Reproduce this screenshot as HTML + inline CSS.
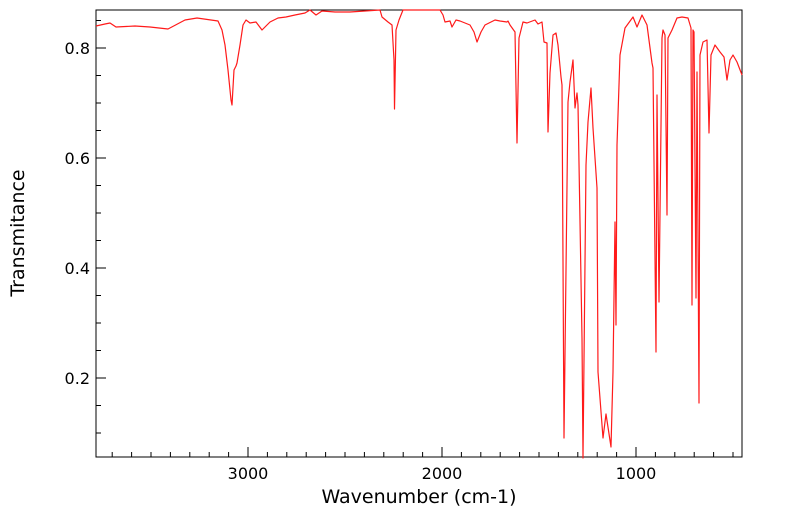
<!DOCTYPE html>
<html><head><style>body{margin:0;background:#fff}svg{display:block;font-family:"DejaVu Sans","Liberation Sans",sans-serif}</style></head>
<body>
<svg width="799" height="516" viewBox="0 0 799 516">
<rect x="96" y="10" width="646" height="447" fill="none" stroke="#000" stroke-width="1"/>
<g stroke="#000" stroke-width="1">
<line x1="96" y1="378" x2="106" y2="378"/><line x1="96" y1="268" x2="106" y2="268"/><line x1="96" y1="158" x2="106" y2="158"/><line x1="96" y1="48" x2="106" y2="48"/>
<line x1="96" y1="20.5" x2="101" y2="20.5"/><line x1="96" y1="75.5" x2="101" y2="75.5"/><line x1="96" y1="103" x2="101" y2="103"/><line x1="96" y1="130.5" x2="101" y2="130.5"/><line x1="96" y1="185.5" x2="101" y2="185.5"/><line x1="96" y1="213" x2="101" y2="213"/><line x1="96" y1="240.5" x2="101" y2="240.5"/><line x1="96" y1="295.5" x2="101" y2="295.5"/><line x1="96" y1="323" x2="101" y2="323"/><line x1="96" y1="350.5" x2="101" y2="350.5"/><line x1="96" y1="405.5" x2="101" y2="405.5"/><line x1="96" y1="433" x2="101" y2="433"/>
<line x1="248" y1="457" x2="248" y2="447"/><line x1="442" y1="457" x2="442" y2="447"/><line x1="636" y1="457" x2="636" y2="447"/>
<line x1="112.2" y1="457" x2="112.2" y2="452"/><line x1="131.6" y1="457" x2="131.6" y2="452"/><line x1="151" y1="457" x2="151" y2="452"/><line x1="170.4" y1="457" x2="170.4" y2="452"/><line x1="189.8" y1="457" x2="189.8" y2="452"/><line x1="209.2" y1="457" x2="209.2" y2="452"/><line x1="228.6" y1="457" x2="228.6" y2="452"/>
<line x1="267.4" y1="457" x2="267.4" y2="452"/><line x1="286.8" y1="457" x2="286.8" y2="452"/><line x1="306.2" y1="457" x2="306.2" y2="452"/><line x1="325.6" y1="457" x2="325.6" y2="452"/><line x1="345" y1="457" x2="345" y2="452"/><line x1="364.4" y1="457" x2="364.4" y2="452"/><line x1="383.8" y1="457" x2="383.8" y2="452"/><line x1="403.2" y1="457" x2="403.2" y2="452"/><line x1="422.6" y1="457" x2="422.6" y2="452"/>
<line x1="461.4" y1="457" x2="461.4" y2="452"/><line x1="480.8" y1="457" x2="480.8" y2="452"/><line x1="500.2" y1="457" x2="500.2" y2="452"/><line x1="519.6" y1="457" x2="519.6" y2="452"/><line x1="539" y1="457" x2="539" y2="452"/><line x1="558.4" y1="457" x2="558.4" y2="452"/><line x1="577.8" y1="457" x2="577.8" y2="452"/><line x1="597.2" y1="457" x2="597.2" y2="452"/><line x1="616.6" y1="457" x2="616.6" y2="452"/>
<line x1="655.4" y1="457" x2="655.4" y2="452"/><line x1="674.8" y1="457" x2="674.8" y2="452"/><line x1="694.2" y1="457" x2="694.2" y2="452"/><line x1="713.6" y1="457" x2="713.6" y2="452"/><line x1="733" y1="457" x2="733" y2="452"/>
</g>
<g font-size="16" fill="#000">
<text x="90" y="384" text-anchor="end">0.2</text><text x="90" y="274" text-anchor="end">0.4</text><text x="90" y="164" text-anchor="end">0.6</text><text x="90" y="54" text-anchor="end">0.8</text>
<text x="248" y="479" text-anchor="middle">3000</text><text x="442" y="479" text-anchor="middle">2000</text><text x="636" y="479" text-anchor="middle">1000</text>
<text x="419" y="503" text-anchor="middle" font-size="19">Wavenumber (cm-1)</text>
<text transform="translate(24,233) rotate(-90)" text-anchor="middle" font-size="19">Transmitance</text>
</g>
<polyline fill="none" stroke="#ff1a1a" stroke-width="1.2" stroke-linejoin="round" points="96,26 105,24 110,23 116,27 135,26 150,27 168,29 185,20 197,18 218,21 222,30 225,45 228,70 231,100 232,105 234,70 236,66 237,63 240,45 243,25 246,20 250,23 256,22 262,30 270,22 278,18 286,17 295,15 305,13 310,10 316,15 322,11 335,12 350,12 365,11 380,10 382,17 388,22 392,25 394,60 394.5,109 396,30 399,20 403,10 420,10 440,10 443,15 445,22 450,21 452,27 456,20 460,21 470,25 474,32 477,42 481,32 485,25 495,20 500,21 507,22 508,21 510,25 515,32 517,143 519,38 523,22 527,23 535,20 538,24 542,22 544,42 547,43 548,132 550,73 553,35 556,33 558,45 561,77 562,85 564,438 568,102 570,82 573,60 575,108 577,93 578,105 582,338 583,458 586,165 588,122 591,88 593,128 597,188 598,372 603,438 606,414 611,447 613,372 615,222 616,325 617,145 620,55 625,28 633,17 637,27 642,15 647,25 652,63 653,68 656,352 657,95 659,302 662,38 663,30 665,35 667,215 668,38 672,30 677,18 682,17 688,18 691,28 692,305 693,30 694,32 696,298 697,72 699,403 700,55 703,42 707,40 709,133 711,55 715,45 720,52 724,57 727,80 730,60 733,55 737,62 742,75"/>
</svg>
</body></html>
